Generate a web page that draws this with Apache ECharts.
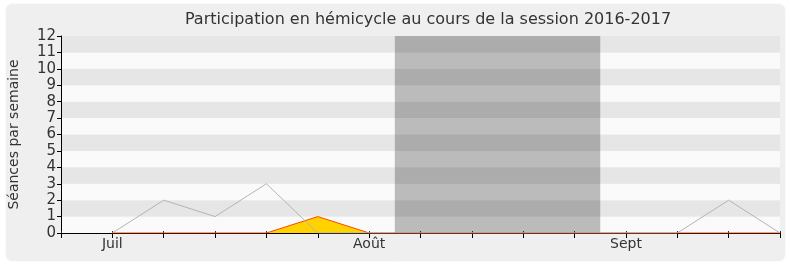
<!DOCTYPE html>
<html><head><meta charset="utf-8">
<script src="https://cdn.jsdelivr.net/npm/echarts@6/dist/echarts.min.js"></script>
<style>html,body{margin:0;padding:0;background:#fff}#c{width:790px;height:267px}</style>
</head><body><div id="c"></div>
<script>
const weekLabels = ['', 'Juil', '', '', '', '', 'Août', '', '', '', '', 'Sept', '', '', ''];
const totalSeances = [null, 0, 2, 1, 3, 0, 0, 0, 0, 0, 0, 0, 0, 2, 0];
const participation = [null, 0, 0, 0, 0, 1, 0, 0, 0, 0, 0, 0, 0, 0, 0];
const holidayRange = [6.5, 10.5];
const yTicks = [0, 1, 2, 3, 4, 5, 6, 7, 8, 9, 10, 11, 12];

const chart = echarts.init(document.getElementById('c'), null, {renderer: 'canvas'});
const font = 'DejaVu Sans';
chart.setOption({
  animation: false,
  backgroundColor: '#ffffff',
  graphic: [{
    type: 'rect', z: -10, silent: true,
    shape: {x: 5.5, y: 3.5, width: 780, height: 258, r: 7},
    style: {fill: '#efefef', stroke: '#fbfbfb', lineWidth: 1}
  }],
  title: {
    text: 'Participation en hémicycle au cours de la session 2016-2017',
    left: 423, textAlign: 'center', top: 7,
    textStyle: {fontFamily: font, fontSize: 16, fontWeight: 'normal', color: '#333'}
  },
  grid: {left: 61, right: 10, top: 36, bottom: 34, outerBoundsMode: 'none', containLabel: false},
  xAxis: [{
    type: 'value', min: 0, max: weekLabels.length - 1, interval: 1,
    axisLine: {show: true, onZero: false, lineStyle: {color: '#000', width: 1}},
    axisTick: {show: true, length: 5, lineStyle: {color: '#000'}},
    axisLabel: {
      formatter: v => weekLabels[v] || '',
      fontFamily: font, fontSize: 14, color: '#333', margin: 4,
      showMinLabel: true, showMaxLabel: true
    },
    splitLine: {show: false}
  }, {
    type: 'value', position: 'top', min: 0, max: weekLabels.length - 1, interval: 1,
    axisLine: {show: false},
    axisTick: {show: true, length: 2, inside: false, lineStyle: {color: '#333'}},
    axisLabel: {show: false}, splitLine: {show: false}
  }],
  yAxis: {
    type: 'value', min: yTicks[0], max: yTicks[yTicks.length - 1], interval: 1,
    name: 'Séances par semaine', nameLocation: 'middle', nameGap: 40, nameRotate: 90,
    nameTextStyle: {fontFamily: font, fontSize: 14, color: '#333'},
    axisLine: {show: true, lineStyle: {color: '#000'}},
    axisTick: {show: true, length: 4, lineStyle: {color: '#000'}},
    axisLabel: {fontFamily: font, fontSize: 15, color: '#333', margin: 5},
    splitLine: {show: false},
    splitArea: {show: true, areaStyle: {color: ['#fafafa', '#e6e6e6']}}
  },
  series: [{
    type: 'line', name: 'participation', z: 2,
    data: participation.map((v, i) => [i, v]),
    symbol: 'none', connectNulls: false,
    lineStyle: {color: '#ff4500', width: 1},
    areaStyle: {color: '#ffd200', opacity: 1},
    markArea: {
      silent: true,
      itemStyle: {color: 'rgba(0,0,0,0.25)'},
      data: [[{xAxis: holidayRange[0]}, {xAxis: holidayRange[1]}]]
    }
  }, {
    type: 'line', name: 'total', z: 3,
    data: totalSeances.map((v, i) => [i, v]),
    symbol: 'none',
    lineStyle: {color: '#b4b4b4', width: 1}
  }]
});
</script></body></html>
